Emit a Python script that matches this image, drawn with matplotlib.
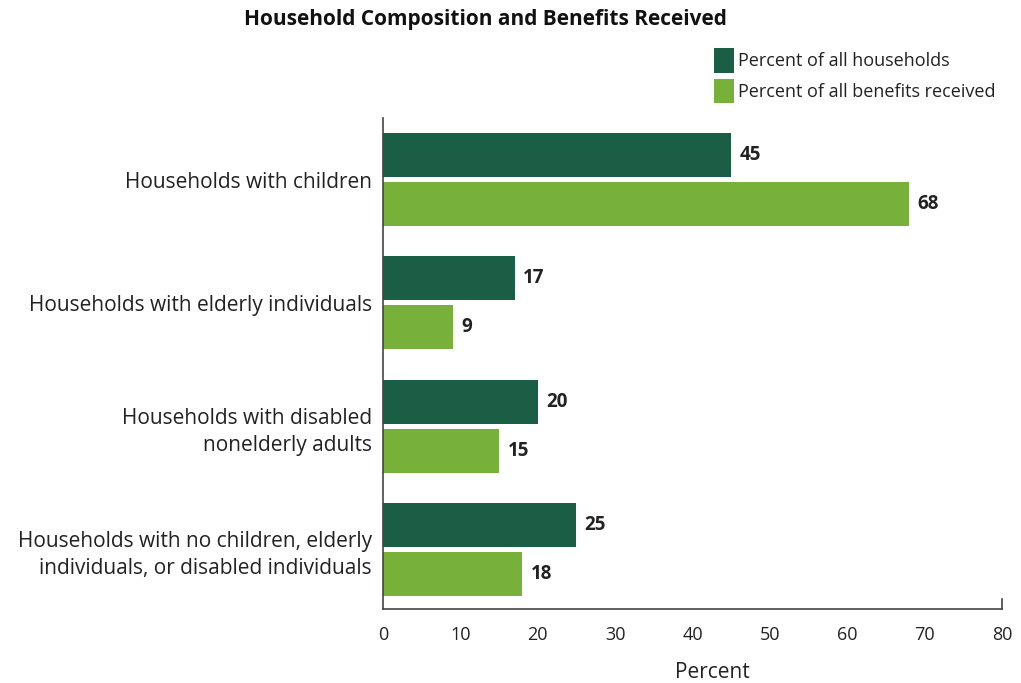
import matplotlib
matplotlib.use("Agg")
import matplotlib.pyplot as plt
import numpy as np

plt.rcParams['font.family'] = ['Open Sans', 'DejaVu Sans']

categories = [
    "Households with children",
    "Households with elderly individuals",
    "Households with disabled\nnonelderly adults",
    "Households with no children, elderly\nindividuals, or disabled individuals",
]
pct_households = [45, 17, 20, 25]
pct_benefits = [68, 9, 15, 18]
series_names = ["Percent of all households", "Percent of all benefits received"]
xticks = [0, 10, 20, 30, 40, 50, 60, 70, 80]

dark = "#195E45"
light = "#77B13A"
text_color = "#222222"

fig = plt.figure(figsize=(10.21, 6.83), dpi=100)
ax = fig.add_axes([383 / 1021, 1 - 609 / 683, 619 / 1021, 491 / 683])

y = np.arange(len(categories))
h = 0.358
off = 0.199
b1 = ax.barh(y - off, pct_households, height=h, color=dark, label=series_names[0])
b2 = ax.barh(y + off, pct_benefits, height=h, color=light, label=series_names[1])

for bars, vals in ((b1, pct_households), (b2, pct_benefits)):
    for rect, v in zip(bars, vals):
        ax.annotate(f"{v}", xy=(v, rect.get_y() + rect.get_height() / 2),
                    xytext=(6, 0), textcoords="offset points",
                    ha="left", va="center", fontsize=13.5, fontweight="bold",
                    color=text_color)

ax.set_xlim(0, 80)
ax.set_ylim(3.484, -0.5)
ax.set_xticks(xticks)
ax.set_xticklabels([str(t) for t in xticks], fontsize=13, color=text_color)
ax.tick_params(axis="x", length=0, pad=12)
ax.set_yticks(y)
ax.set_yticklabels(categories, fontsize=15, color=text_color, ha="right",
                   multialignment="right", linespacing=1.4)
ax.tick_params(axis="y", length=0, pad=8)

for side in ("top", "right"):
    ax.spines[side].set_visible(False)
for side in ("left", "bottom"):
    ax.spines[side].set_color("#444444")
    ax.spines[side].set_linewidth(1.2)

# small end cap at the right of the x axis
ax.plot([80, 80], [3.484, 3.40], color="#444444", lw=1.2, clip_on=False)

ax.set_xlabel("Percent", fontsize=15, color=text_color)
ax.xaxis.set_label_coords((712 - 383) / 619, -0.107)

fig.text(0.475, 1 - 19 / 683, "Household Composition and Benefits Received",
         ha="center", va="center", fontsize=15, fontweight="bold", color="#111111")

fig.legend(handles=[b1, b2], labels=series_names,
           loc="upper left", bbox_to_anchor=(707 / 1021, 1 - 41 / 683),
           frameon=False, fontsize=13, handlelength=1.1, handleheight=1.7,
           handletextpad=0.2, labelspacing=0.35, labelcolor=text_color,
           borderaxespad=0)

fig.savefig("out.png", dpi=100)
